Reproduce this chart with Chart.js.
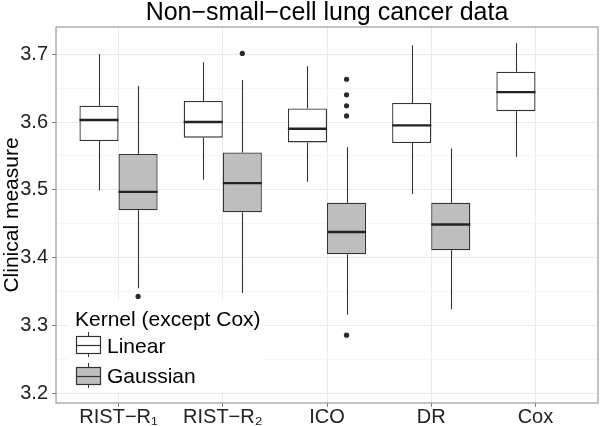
<!DOCTYPE html>
<html>
<head>
<meta charset="utf-8">
<script src="https://cdn.jsdelivr.net/npm/chart.js@4/dist/chart.umd.min.js"></script>
<style>
  html, body { margin: 0; padding: 0; background: #fff; }
  #wrap { width: 600px; height: 426px; position: relative; }
</style>
</head>
<body>
<div id="wrap"><canvas id="c" width="600" height="426"></canvas></div>
<script>
// ---- data ----
const categories = ['RIST\u2212R\u2081', 'RIST\u2212R\u2082', 'ICO', 'DR', 'Cox'];
const seriesNames = ['Linear', 'Gaussian'];

const linearMin    = [3.499, 3.515, 3.512, 3.494, 3.549];
const linearQ1     = [3.572, 3.577, 3.570, 3.569, 3.616];
const linearMedian = [3.603, 3.600, 3.590, 3.595, 3.644];
const linearQ3     = [3.624, 3.631, 3.620, 3.628, 3.674];
const linearMax    = [3.700, 3.688, 3.682, 3.713, 3.716];
const linearOutliers = [[], [], [], [], []];

const gaussMin    = [3.355, 3.348, 3.316, 3.324, null];
const gaussQ1     = [3.470, 3.467, 3.405, 3.411, null];
const gaussMedian = [3.497, 3.510, 3.438, 3.449, null];
const gaussQ3     = [3.553, 3.555, 3.481, 3.481, null];
const gaussMax    = [3.653, 3.662, 3.563, 3.561, null];
const gaussOutliers = [[3.343], [3.701], [3.663, 3.640, 3.624, 3.609, 3.286], [], []];

const yTicks = [3.2, 3.25, 3.3, 3.35, 3.4, 3.45, 3.5, 3.55, 3.6, 3.65, 3.7];
const yMajorLabels = ['3.2', '', '3.3', '', '3.4', '', '3.5', '', '3.6', '', '3.7'];

// ---- build library structures ----
const stats = [
  { min: linearMin, q1: linearQ1, med: linearMedian, q3: linearQ3, max: linearMax, out: linearOutliers },
  { min: gaussMin,  q1: gaussQ1,  med: gaussMedian,  q3: gaussQ3,  max: gaussMax,  out: gaussOutliers }
];
const fills = ['#ffffff', '#bebebe'];
const LINE = '#333333';
const FONT = "'Liberation Sans', Arial, Helvetica, sans-serif";

const datasets = stats.map((s, k) => ({
  label: seriesNames[k],
  data: categories.map((c, i) => ({ x: i + 1, y: s.q1[i] == null ? null : [s.q1[i], s.q3[i]] })),
  backgroundColor: fills[k],
  borderColor: LINE,
  borderWidth: 1.3,
  borderSkipped: false,
  categoryPercentage: 0.75,
  barPercentage: 1.0
}));

const boxPlugin = {
  id: 'boxparts',
  beforeDatasetsDraw(chart) {
    const ctx = chart.ctx, y = chart.scales.y;
    ctx.save();
    ctx.strokeStyle = LINE; ctx.lineWidth = 1.1;
    stats.forEach((s, k) => {
      const meta = chart.getDatasetMeta(k);
      categories.forEach((c, i) => {
        if (s.q1[i] == null) return;
        const x = Math.round(meta.data[i].x) + 0.5;
        ctx.beginPath();
        ctx.moveTo(x, y.getPixelForValue(s.max[i]));
        ctx.lineTo(x, y.getPixelForValue(s.q3[i]));
        ctx.moveTo(x, y.getPixelForValue(s.q1[i]));
        ctx.lineTo(x, y.getPixelForValue(s.min[i]));
        ctx.stroke();
      });
    });
    ctx.restore();
  },
  afterDatasetsDraw(chart) {
    const ctx = chart.ctx, y = chart.scales.y, a = chart.chartArea;
    ctx.save();
    stats.forEach((s, k) => {
      const meta = chart.getDatasetMeta(k);
      categories.forEach((c, i) => {
        if (s.q1[i] == null) return;
        const el = meta.data[i];
        const half = el.width / 2;
        const ym = y.getPixelForValue(s.med[i]);
        ctx.strokeStyle = '#222'; ctx.lineWidth = 2.4;
        ctx.beginPath(); ctx.moveTo(el.x - half, ym); ctx.lineTo(el.x + half, ym); ctx.stroke();
        ctx.fillStyle = '#2a2a2a';
        s.out[i].forEach(v => {
          ctx.beginPath(); ctx.arc(el.x, y.getPixelForValue(v), 2.6, 0, Math.PI * 2); ctx.fill();
        });
      });
    });
    // panel border
    ctx.strokeStyle = '#9a9a9a'; ctx.lineWidth = 1.2;
    ctx.strokeRect(a.left, a.top, a.right - a.left, a.bottom - a.top);
    ctx.restore();
  },
  afterDraw(chart) {
    const ctx = chart.ctx;
    ctx.save();
    // legend background
    ctx.fillStyle = '#ffffff';
    ctx.fillRect(68, 301, 196, 91);
    ctx.fillStyle = '#000';
    ctx.font = '21px ' + FONT;
    ctx.textBaseline = 'alphabetic';
    ctx.fillText('Kernel (except Cox)', 75, 326);
    const keys = [{ y0: 336, y1: 353, t: 353 }, { y0: 367, y1: 384, t: 383 }];
    keys.forEach((kk, k) => {
      const cx = 88.5;
      ctx.strokeStyle = LINE; ctx.lineWidth = 1;
      ctx.beginPath(); ctx.moveTo(cx, kk.y0 - 4); ctx.lineTo(cx, kk.y1 + 4); ctx.stroke();
      ctx.fillStyle = fills[k];
      ctx.fillRect(76, kk.y0, 24, kk.y1 - kk.y0);
      ctx.lineWidth = 1.2;
      ctx.strokeRect(76.5, kk.y0 + 0.5, 24, kk.y1 - kk.y0);
      const mid = Math.round((kk.y0 + kk.y1) / 2) + 0.5;
      ctx.beginPath(); ctx.moveTo(76, mid); ctx.lineTo(101, mid); ctx.stroke();
      ctx.fillStyle = '#000';
      ctx.fillText(seriesNames[k], 107, kk.t);
    });
    ctx.restore();
  }
};

new Chart(document.getElementById('c'), {
  type: 'bar',
  data: { datasets },
  options: {
    responsive: false,
    animation: false,
    devicePixelRatio: 1,
    layout: { padding: { left: 0, right: 2, top: 0, bottom: 0 } },
    plugins: {
      legend: { display: false },
      tooltip: { enabled: false },
      title: {
        display: true,
        fullSize: false,
        text: 'Non\u2212small\u2212cell lung cancer data',
        color: '#000',
        font: { family: FONT, size: 25, weight: 'normal', lineHeight: 1.0 },
        padding: { top: 1, bottom: 1 }
      }
    },
    scales: {
      x: {
        type: 'linear',
        min: 0.4, max: 5.6,
        offset: false,
        afterBuildTicks(axis) { axis.ticks = categories.map((c, i) => ({ value: i + 1 })); },
        afterFit(scale) { scale.height = 23; },
        border: { display: false },
        grid: { offset: false, color: '#ebebeb', lineWidth: 1, tickLength: 4, tickColor: '#7f7f7f' },
        ticks: {
          color: '#222', padding: 0, maxRotation: 0, autoSkip: false,
          font: { family: FONT, size: 20, lineHeight: 1.0 },
          callback: (v) => categories[Math.round(v) - 1]
        }
      },
      y: {
        min: 3.186, max: 3.740,
        afterBuildTicks(axis) { axis.ticks = yTicks.map(v => ({ value: v })); },
        afterFit(scale) { scale.width = 56; },
        border: { display: false },
        grid: {
          color: (ctx) => (ctx.index % 2 === 0 ? '#ebebeb' : '#f6f6f6'),
          tickColor: (ctx) => (ctx.index % 2 === 0 ? '#7f7f7f' : 'rgba(0,0,0,0)'),
          lineWidth: 1, tickLength: 4
        },
        ticks: {
          color: '#222', padding: 4, autoSkip: false,
          font: { family: FONT, size: 20 },
          callback: (v, i) => yMajorLabels[i]
        },
        title: {
          display: true, text: 'Clinical measure', color: '#000',
          font: { family: FONT, size: 21, lineHeight: 1.2 },
          padding: { top: 0, bottom: 0 }
        }
      }
    }
  },
  plugins: [boxPlugin]
});
</script>
</body>
</html>
